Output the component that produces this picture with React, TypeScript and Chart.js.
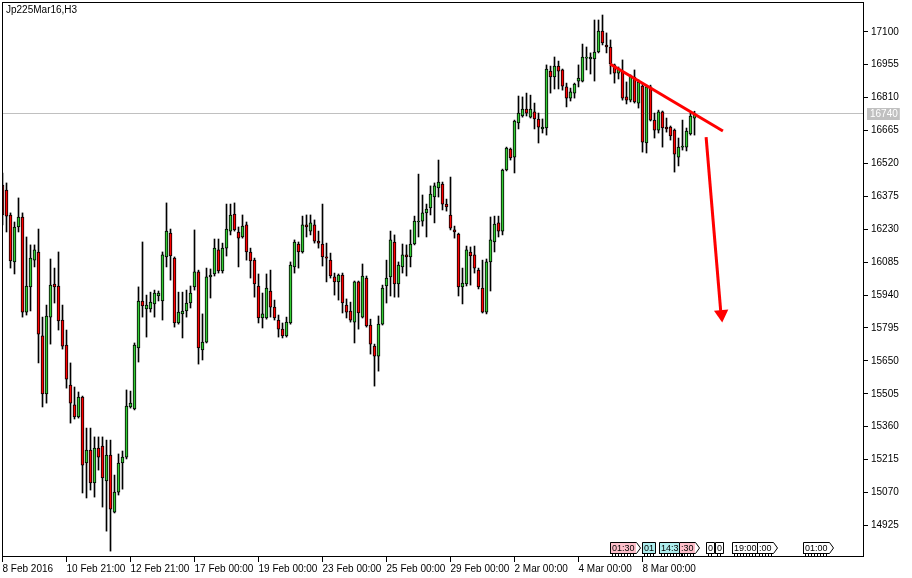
import React, { useEffect, useRef } from 'react';
import { Chart, registerables } from 'chart.js';

Chart.register(...registerables);

// ---- data (H3 candles, index 0 = 8 Feb 2016 00:00) ----
const opens = [
  16425, 16403, 16293, 16086, 16240, 16284, 15865, 15976, 16094, 16130,
  15760, 15504, 15843, 15989, 15980, 15830, 15720, 15544, 15456, 15403,
  15491, 15200, 15257, 15112, 15266, 15275, 15121, 15235, 14984, 15072,
  15200, 15226, 15447, 15438, 15707, 15914, 15879, 15879, 15901, 15936,
  15914, 16108, 16213, 16103, 15817, 15857, 15870, 15905, 15976, 16042,
  15698, 15733, 16020, 16033, 16139, 16046, 16147, 16222, 16297, 16218,
  16196, 16249, 16130, 16094, 15980, 15839, 15839, 15958, 15887, 15830,
  15790, 15760, 15817, 16064, 16165, 16130, 16249, 16222, 16249, 16178,
  16165, 16108, 16094, 16020, 15998, 16028, 15896, 15870, 15821, 15998,
  15843, 16015, 15808, 15715, 15671, 15812, 15980, 16020, 16174, 15989,
  16064, 16117, 16108, 16165, 16262, 16266, 16302, 16324, 16372, 16412,
  16429, 16341, 16293, 16227, 16209, 15976, 15989, 16130, 16117, 16050,
  15971, 15865, 16086, 16174, 16258, 16222, 16491, 16583, 16548, 16698,
  16729, 16760, 16724, 16747, 16716, 16672, 16676, 16927, 16901, 16949,
  16932, 16857, 16808, 16830, 16883, 16883, 16984, 16980, 16980, 17011,
  17103, 17042, 17033, 16954, 16918, 16923, 16813, 16799, 16901, 16786,
  16861, 16610, 16857, 16711, 16667, 16747, 16680, 16680, 16667, 16548,
  16592, 16592, 16650, 16720,
];
const highs = [
  16478, 16434, 16302, 16262, 16368, 16302, 16196, 16161, 16161, 16231,
  15843, 15896, 16099, 16059, 16130, 15896, 15786, 15641, 15535, 15513,
  15495, 15354, 15354, 15315, 15315, 15315, 15301, 15301, 15147, 15240,
  15253, 15522, 15517, 15729, 15976, 16174, 15940, 15953, 15962, 15958,
  16130, 16346, 16231, 16108, 15953, 15953, 15962, 15980, 16227, 16050,
  15857, 16059, 16055, 16187, 16187, 16169, 16341, 16341, 16346, 16240,
  16293, 16262, 16147, 16103, 16033, 15949, 16033, 16050, 15918, 15852,
  15817, 15843, 16086, 16183, 16174, 16288, 16293, 16293, 16271, 16222,
  16341, 16169, 16125, 16037, 16033, 16037, 15923, 15909, 16002, 16002,
  16077, 16024, 15834, 15724, 15848, 15984, 16094, 16222, 16205, 16086,
  16165, 16161, 16227, 16288, 16473, 16381, 16341, 16421, 16434, 16535,
  16438, 16363, 16460, 16244, 16213, 16059, 16156, 16152, 16156, 16059,
  16094, 16099, 16284, 16288, 16288, 16495, 16592, 16588, 16711, 16817,
  16813, 16830, 16821, 16786, 16742, 16716, 16954, 16949, 16989, 16971,
  16936, 16874, 16852, 16874, 16954, 17046, 17033, 17007, 17152, 17152,
  17174, 17095, 17064, 16958, 16945, 16976, 16879, 16910, 16932, 16888,
  16874, 16865, 16865, 16742, 16755, 16751, 16720, 16685, 16672, 16632,
  16711, 16676, 16742, 16750,
];
const lows = [
  16249, 16218, 16059, 16033, 16218, 15843, 15852, 15870, 16064, 15641,
  15447, 15464, 15724, 15905, 15786, 15702, 15530, 15376, 15394, 15398,
  15068, 15046, 15081, 15050, 15169, 15006, 14900, 14812, 14980, 15059,
  15085, 15218, 15442, 15434, 15645, 15843, 15755, 15865, 15843, 15914,
  15830, 16064, 16006, 15799, 15812, 15751, 15843, 15883, 15962, 15636,
  15654, 15729, 15927, 16024, 16037, 16037, 16112, 16205, 16222, 16064,
  16191, 16094, 16015, 15931, 15817, 15795, 15834, 15843, 15830, 15755,
  15751, 15755, 15812, 16037, 16059, 16125, 16196, 16205, 16169, 16147,
  16068, 15998, 16015, 15940, 15918, 15861, 15839, 15821, 15729, 15790,
  15839, 15799, 15680, 15539, 15605, 15808, 15905, 15936, 15931, 15931,
  16037, 16024, 16064, 16161, 16196, 16244, 16196, 16293, 16258, 16372,
  16315, 16310, 16227, 16191, 15936, 15901, 15980, 15984, 16037, 15967,
  15861, 15857, 15958, 16130, 16196, 16205, 16487, 16535, 16478, 16672,
  16724, 16729, 16720, 16672, 16610, 16654, 16645, 16830, 16848, 16848,
  16843, 16769, 16795, 16808, 16857, 16879, 16932, 16914, 16883, 17007,
  17042, 17007, 16914, 16874, 16892, 16799, 16782, 16791, 16786, 16764,
  16570, 16566, 16707, 16632, 16654, 16592, 16658, 16623, 16482, 16509,
  16579, 16575, 16645, 16645,
];
const closes = [
  16293, 16288, 16090, 16240, 16284, 15865, 15980, 16103, 16139, 15768,
  15504, 15848, 15984, 15976, 15826, 15715, 15570, 15464, 15403, 15491,
  15191, 15257, 15112, 15266, 15226, 15134, 15235, 14997, 15072, 15200,
  15226, 15451, 15464, 15720, 15914, 15892, 15896, 15909, 15949, 15949,
  16117, 16222, 16112, 15817, 15865, 15870, 15905, 15949, 16042, 15707,
  15733, 16020, 16028, 16147, 16046, 16147, 16231, 16293, 16227, 16191,
  16244, 16130, 16090, 15989, 15839, 15857, 15971, 15887, 15839, 15790,
  15760, 15821, 16072, 16174, 16130, 16249, 16240, 16258, 16178, 16169,
  16108, 16103, 16024, 15998, 16028, 15905, 15865, 15830, 15998, 15861,
  16024, 15804, 15724, 15671, 15812, 15971, 16015, 16183, 15989, 16072,
  16117, 16108, 16165, 16266, 16266, 16302, 16319, 16385, 16421, 16438,
  16341, 16328, 16235, 16218, 15976, 15993, 16139, 16112, 16059, 15976,
  15865, 16086, 16183, 16253, 16222, 16491, 16588, 16544, 16707, 16742,
  16760, 16742, 16760, 16716, 16680, 16680, 16936, 16901, 16949, 16927,
  16861, 16808, 16835, 16870, 16896, 16989, 16989, 16989, 17011, 17103,
  17051, 17033, 16958, 16918, 16936, 16808, 16799, 16905, 16791, 16879,
  16614, 16857, 16711, 16667, 16747, 16676, 16672, 16641, 16561, 16592,
  16597, 16663, 16729, 16740,
];

const xTickIndex = [0, 16, 32, 48, 64, 80, 96, 112, 128, 144, 160];
const xTickLabels = [
  '8 Feb 2016', '10 Feb 21:00', '12 Feb 21:00', '17 Feb 00:00', '19 Feb 00:00',
  '23 Feb 00:00', '25 Feb 00:00', '29 Feb 00:00', '2 Mar 00:00', '4 Mar 00:00', '8 Mar 00:00',
];
const yTicks = [
  14925, 15070, 15215, 15360, 15505, 15650, 15795, 15940,
  16085, 16230, 16375, 16520, 16665, 16810, 16955, 17100,
];
const yMin = 14786;
const yMax = 17231.3;
const xMin = -0.125;
const xMax = 215.375;
const lastPrice = 16740;
const symbolTitle = 'Jp225Mar16,H3';

// drawn objects (in data units: candle index / price)
const trendX = [151.9, 180.1];
const trendY = [16958, 16663];
const arrowX = [175.9, 179.55];
const arrowY = [16636, 15870];
const arrowHeadX = 179.75;
const arrowHeadY = 15856;

// time-axis object labels
const timeBoxLabels = ['01:30', '01', '14:39', ':30', '0', '0', '19:00', ':00', '01:00'];
const timeBoxIndex = [151.9, 159.9, 164.1, 169.1, 175.9, 178.1, 182.4, 188.6, 200.1];
const timeBoxKind = ['pink', 'cyan', 'cyan', 'pink', 'white', 'white', 'white', 'white', 'white'];
const timeBoxTail = [true, false, false, true, false, false, false, true, true];

const FONT = '"Liberation Sans", Arial, sans-serif';
const FSIZE = 10;
const GREEN = '#33cc33';
const RED = '#ff0000';

const overlayPlugin = {
  id: 'mtOverlay',
  afterDraw(chart: any) {
    const { ctx, chartArea: a, scales } = chart;
    const xs = scales.x;
    const ys = scales.y;
    ctx.save();
    // frame
    ctx.strokeStyle = '#000';
    ctx.lineWidth = 1;
    const l = Math.round(a.left), t = Math.round(a.top), r = Math.round(a.right), b = Math.round(a.bottom);
    ctx.strokeRect(l + 0.5, t + 0.5, r - l - 1, b - t - 1);

    // title
    ctx.font = FSIZE + 'px ' + FONT;
    ctx.fillStyle = '#000';
    ctx.textBaseline = 'top';
    ctx.textAlign = 'left';
    ctx.fillText(symbolTitle, l + 4, t + 3);

    // last price label
    const py = Math.round(ys.getPixelForValue(lastPrice));
    const txt = String(lastPrice);
    const tw = ctx.measureText(txt).width;
    ctx.fillStyle = '#c0c0c0';
    ctx.fillRect(r + 3, py - 6, tw + 5, 12);
    ctx.fillStyle = '#ffffff';
    ctx.textBaseline = 'middle';
    ctx.fillText(txt, r + 6, py + 0.5);

    // time boxes on the time axis
    ctx.font = '9px ' + FONT;
    const by = b - 15;
    const bh = 12;
    for (let i = 0; i < timeBoxLabels.length; i++) {
      const bx = Math.round(xs.getPixelForValue(timeBoxIndex[i]));
      const w = Math.round(ctx.measureText(timeBoxLabels[i]).width) + 3;
      const kind = timeBoxKind[i];
      ctx.fillStyle = kind === 'pink' ? '#ffc0cb' : kind === 'cyan' ? '#aeeeee' : '#ffffff';
      ctx.fillRect(bx, by, w, bh);
      ctx.strokeStyle = '#000';
      ctx.beginPath();
      ctx.moveTo(bx + 0.5, by + bh);
      ctx.lineTo(bx + 0.5, by + 0.5);
      ctx.lineTo(bx + w + 0.5, by + 0.5);
      if (timeBoxTail[i]) {
        ctx.lineTo(bx + w + 4.5, by + bh / 2);
        ctx.lineTo(bx + w + 0.5, by + bh - 0.5);
      } else {
        ctx.lineTo(bx + w + 0.5, by + bh - 0.5);
      }
      ctx.lineTo(bx + 0.5, by + bh - 0.5);
      ctx.stroke();
      ctx.beginPath();
      for (let k = bx + 2; k < bx + w; k += 3) {
        ctx.moveTo(k + 0.5, by + bh);
        ctx.lineTo(k + 0.5, by + bh + 2);
      }
      ctx.stroke();
      ctx.fillStyle = '#000';
      ctx.textBaseline = 'middle';
      ctx.fillText(timeBoxLabels[i], bx + 2, by + bh / 2 + 0.5);
    }
    ctx.restore();
  },
};

export default function App() {
  const ref = useRef<HTMLCanvasElement | null>(null);

  useEffect(() => {
    if (!ref.current) return;
    const idx = opens.map((_, i) => i);
    const wickData = idx.map((i) => ({ x: i, y: [lows[i], highs[i]] }));
    const bodyData = idx.map((i) => ({ x: i, y: [opens[i], closes[i]] }));
    const bodyColor = (c: any) => {
      const i = c.dataIndex;
      return closes[i] >= opens[i] ? GREEN : RED;
    };

    const chart = new Chart(ref.current, {
      type: 'bar',
      data: {
        datasets: [
          {
            type: 'line',
            data: [{ x: xMin, y: lastPrice }, { x: xMax, y: lastPrice }],
            borderColor: '#c0c0c0',
            borderWidth: 1,
            pointRadius: 0,
            order: 3,
          } as any,
          {
            type: 'bar',
            data: wickData as any,
            backgroundColor: '#000',
            borderWidth: 0,
            barThickness: 1,
            grouped: false,
            order: 2,
          } as any,
          {
            type: 'bar',
            data: bodyData as any,
            backgroundColor: bodyColor,
            borderColor: '#000',
            borderWidth: 1,
            borderSkipped: false,
            barThickness: 3,
            minBarLength: 1,
            grouped: false,
            order: 1,
          } as any,
          {
            type: 'line',
            data: trendX.map((x, i) => ({ x, y: trendY[i] })),
            borderColor: RED,
            borderWidth: 3,
            pointRadius: 0,
            order: 0,
          } as any,
          {
            type: 'line',
            data: arrowX.map((x, i) => ({ x, y: arrowY[i] })),
            borderColor: RED,
            borderWidth: 3,
            pointRadius: 0,
            order: 0,
          } as any,
          {
            type: 'line',
            data: [{ x: arrowHeadX, y: arrowHeadY }],
            showLine: false,
            pointStyle: 'triangle',
            pointRadius: 8.3,
            pointRotation: 175,
            pointBackgroundColor: RED,
            pointBorderColor: RED,
            pointBorderWidth: 0,
            order: 0,
          } as any,
        ],
      },
      options: {
        animation: false,
        responsive: false,
        events: [],
        layout: { autoPadding: false, padding: { left: 2, top: 2, right: 0, bottom: 0 } },
        plugins: { legend: { display: false }, tooltip: { enabled: false }, title: { display: false } },
        scales: {
          x: {
            type: 'linear',
            min: xMin,
            max: xMax,
            offset: false,
            afterBuildTicks: (s: any) => {
              s.ticks = xTickIndex.map((v) => ({ value: v }));
            },
            afterFit: (s: any) => {
              s.height = 21;
              s.paddingLeft = 0;
              s.paddingRight = 0;
              s.paddingTop = 0;
              s.paddingBottom = 0;
            },
            grid: { drawOnChartArea: false, drawTicks: true, tickLength: 5, color: '#000', offset: false },
            border: { display: false },
            ticks: {
              color: '#000',
              font: { family: FONT, size: FSIZE },
              padding: 1,
              align: 'start',
              maxRotation: 0,
              minRotation: 0,
              autoSkip: false,
              callback: (_v: any, i: number) => xTickLabels[i] ?? '',
            },
          },
          y: {
            type: 'linear',
            position: 'right',
            min: yMin,
            max: yMax,
            afterBuildTicks: (s: any) => {
              s.ticks = yTicks.map((v) => ({ value: v }));
            },
            afterFit: (s: any) => {
              s.width = 48;
              s.paddingLeft = 0;
              s.paddingRight = 0;
              s.paddingTop = 0;
              s.paddingBottom = 0;
            },
            grid: { drawOnChartArea: false, drawTicks: true, tickLength: 4, color: '#000' },
            border: { display: false },
            ticks: {
              color: '#000',
              font: { family: FONT, size: FSIZE },
              padding: 3,
              autoSkip: false,
              callback: (v: any) => String(v),
            },
          },
        },
      } as any,
      plugins: [overlayPlugin],
    });
    return () => chart.destroy();
  }, []);

  return (
    <div style={{ position: 'absolute', left: 0, top: 0, width: 912, height: 578, background: '#fff' }}>
      <canvas ref={ref} width={912} height={578} style={{ display: 'block' }} />
    </div>
  );
}
